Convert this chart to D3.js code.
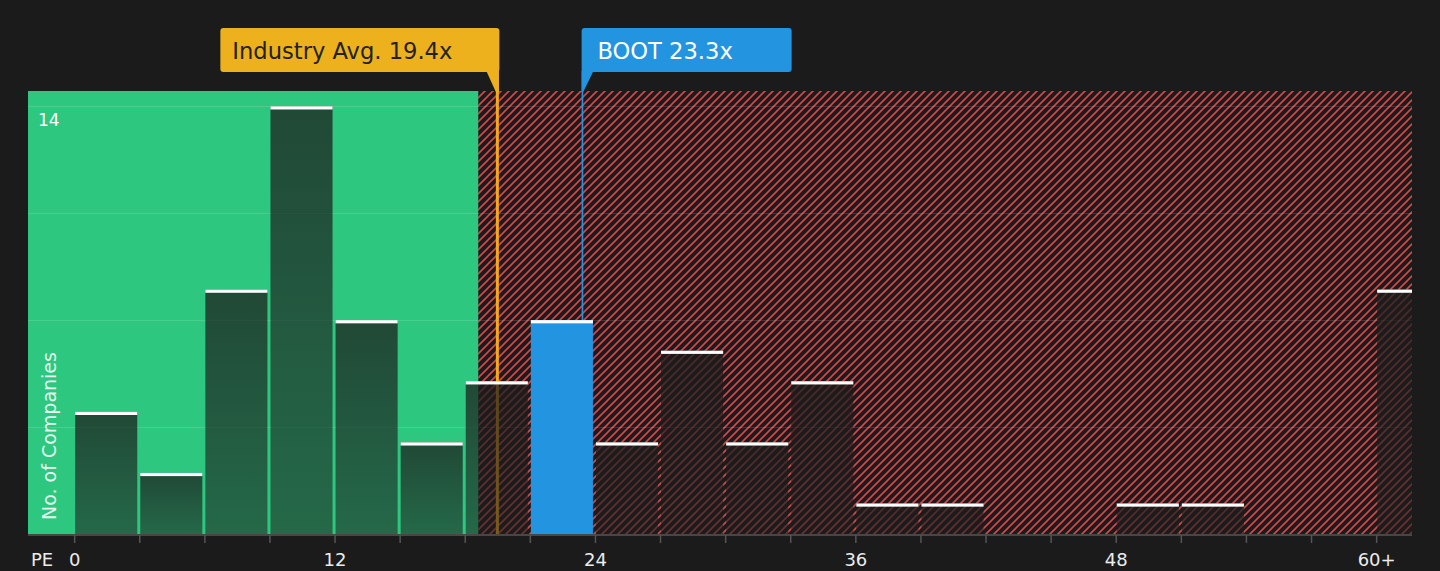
<!DOCTYPE html>
<html>
<head>
<meta charset="utf-8">
<script src="https://cdn.jsdelivr.net/npm/d3@7"></script>
<style>
  html, body { margin: 0; padding: 0; background: #1b1b1b; }
  svg { display: block; }
  text { font-family: "DejaVu Sans", sans-serif; }
</style>
</head>
<body>
<svg id="chart" width="1440" height="571"></svg>
<script>
// ---- data ----
const binStarts = [0, 3, 6, 9, 12, 15, 18, 21, 24, 27, 30, 33, 36, 39, 42, 45, 48, 51, 54, 57, 60];
const binCounts = [4, 2, 8, 14, 7, 3, 5, 7, 3, 6, 3, 5, 1, 1, 0, 0, 1, 1, 0, 0, 8];
const highlightBin = 21;            // bin containing BOOT
const xTickValues = [0, 12, 24, 36, 48, 60];
const xTickLabels = ["0", "12", "24", "36", "48", "60+"];
const yGridValues = [3.5, 7, 10.5, 14];
const yTickValues = [14];
const fairUpper = 18.6;             // end of the green (undervalued) zone
const industryAvg = 19.48;          // marker position
const industryLabel = "Industry Avg. 19.4x";
const companyPE = 23.4;             // marker position
const companyLabel = "BOOT 23.3x";

// ---- layout ----
const svg = d3.select("#chart");
const plot = { left: 28, right: 1412, top: 91, bottom: 534 };
const x = d3.scaleLinear().domain([-2.15, 61.63]).range([plot.left, plot.right]);
const y = d3.scaleLinear().domain([0, 14.5]).range([plot.bottom, plot.top]);

const defs = svg.append("defs");
const pat = defs.append("pattern")
  .attr("id", "hatch").attr("patternUnits", "userSpaceOnUse")
  .attr("width", 8).attr("height", 8);
pat.append("rect").attr("width", 8).attr("height", 8).attr("fill", "#1b1b1b");
pat.append("path").attr("d", "M-2,2 L2,-2 M0,8 L8,0 M6,10 L10,6")
  .attr("stroke", "#d24a4a").attr("stroke-width", 1.6);

const grad = defs.append("linearGradient").attr("id", "barGrad")
  .attr("x1", 0).attr("y1", 0).attr("x2", 0).attr("y2", 1);
grad.append("stop").attr("offset", "0%").attr("stop-color", "#1c1c1c").attr("stop-opacity", 0.74);
grad.append("stop").attr("offset", "100%").attr("stop-color", "#1c1c1c").attr("stop-opacity", 0.55);

defs.append("clipPath").attr("id", "plotClip").append("rect")
  .attr("x", plot.left).attr("y", plot.top)
  .attr("width", plot.right - plot.left).attr("height", plot.bottom - plot.top + 1);

// background zones
svg.append("rect").attr("x", x(fairUpper)).attr("y", plot.top)
  .attr("width", plot.right - x(fairUpper)).attr("height", plot.bottom - plot.top)
  .attr("fill", "url(#hatch)");
svg.append("rect").attr("x", plot.left).attr("y", plot.top)
  .attr("width", x(fairUpper) - plot.left).attr("height", plot.bottom - plot.top)
  .attr("fill", "#2ec77f");

// gridlines
svg.append("g").selectAll("line").data(yGridValues).join("line")
  .attr("x1", plot.left).attr("x2", plot.right)
  .attr("y1", d => Math.round(y(d)) + 0.5).attr("y2", d => Math.round(y(d)) + 0.5)
  .attr("stroke", "rgba(255,255,255,0.13)").attr("stroke-width", 1.2);

// marker lines
svg.append("line").attr("x1", x(industryAvg)).attr("x2", x(industryAvg))
  .attr("y1", 70).attr("y2", plot.bottom)
  .attr("stroke", "#f2a91a").attr("stroke-width", 3);
svg.append("line").attr("x1", x(companyPE)).attr("x2", x(companyPE))
  .attr("y1", 70).attr("y2", plot.bottom)
  .attr("stroke", "#2394e0").attr("stroke-width", 1.6);

// bars
const bars = binStarts.map((s, i) => ({ s, v: binCounts[i] })).filter(d => d.v > 0);
const gBars = svg.append("g").attr("clip-path", "url(#plotClip)");
gBars.selectAll("rect.bar").data(bars).join("rect")
  .attr("class", "bar")
  .attr("x", d => x(d.s) + 0.5)
  .attr("width", d => x(d.s + 3) - x(d.s) - 3)
  .attr("y", d => y(d.v))
  .attr("height", d => y(0) - y(d.v))
  .attr("fill", d => d.s === highlightBin ? "#2394e0" : "url(#barGrad)");
gBars.selectAll("rect.cap").data(bars).join("rect")
  .attr("class", "cap")
  .attr("x", d => x(d.s) + 0.5)
  .attr("width", d => x(d.s + 3) - x(d.s) - 3)
  .attr("y", d => y(d.v))
  .attr("height", 3.2)
  .attr("fill", "#ffffff");

// x axis
svg.append("line").attr("x1", plot.left).attr("x2", plot.right)
  .attr("y1", plot.bottom + 1).attr("y2", plot.bottom + 1)
  .attr("stroke", "#474747").attr("stroke-width", 2);
const minorTicks = d3.range(0, 61, 3);
svg.append("g").selectAll("line").data(minorTicks).join("line")
  .attr("x1", d => x(d)).attr("x2", d => x(d))
  .attr("y1", plot.bottom + 1).attr("y2", plot.bottom + 9)
  .attr("stroke", "#555").attr("stroke-width", 1.5);
svg.append("g").selectAll("text").data(xTickValues).join("text")
  .attr("x", d => x(d)).attr("y", 566)
  .attr("text-anchor", "middle").attr("font-size", 18).attr("fill", "#ececec")
  .text((d, i) => xTickLabels[i]);
svg.append("text").attr("x", 31).attr("y", 566).attr("font-size", 18)
  .attr("fill", "#ececec").text("PE");

// y labels
svg.append("g").selectAll("text").data(yTickValues).join("text")
  .attr("x", 38).attr("y", d => y(d) + 20).attr("font-size", 17)
  .attr("fill", "#ffffff").text(d => d);
svg.append("text").attr("transform", "translate(56,520) rotate(-90)")
  .attr("font-size", 19).attr("fill", "rgba(255,255,255,0.88)")
  .text("No. of Companies");

// annotation: industry avg
const ix = x(industryAvg);
svg.append("path")
  .attr("d", `M${ix - 11},71 L${ix + 1.5},71 L${ix + 1.5},92 L${ix - 1.5},92 Z`)
  .attr("fill", "#ecb11c");
svg.append("rect").attr("x", ix + 2 - 279).attr("y", 28).attr("width", 279).attr("height", 44)
  .attr("rx", 3).attr("fill", "#ecb11c");
svg.append("text").attr("x", ix + 2 - 279 + 12).attr("y", 59).attr("font-size", 22.6)
  .attr("fill", "#222").text(industryLabel);

// annotation: company
const cx = x(companyPE);
svg.append("path")
  .attr("d", `M${cx - 0.8},71 L${cx + 11},71 L${cx + 0.8},92 L${cx - 0.8},92 Z`)
  .attr("fill", "#2394e0");
svg.append("rect").attr("x", cx - 0.8).attr("y", 28).attr("width", 210).attr("height", 44)
  .attr("rx", 3).attr("fill", "#2394e0");
svg.append("text").attr("x", cx + 15).attr("y", 59).attr("font-size", 22.6)
  .attr("fill", "#ffffff").text(companyLabel);
</script>
</body>
</html>
